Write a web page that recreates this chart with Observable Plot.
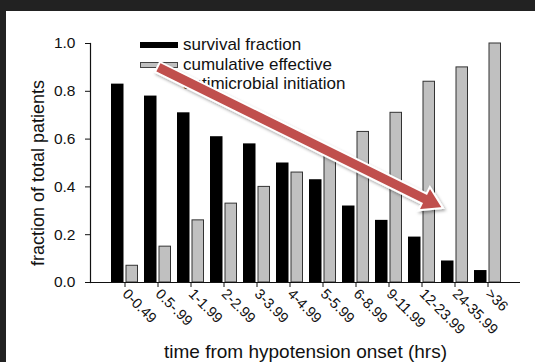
<!DOCTYPE html>
<html>
<head>
<meta charset="utf-8">
<script src="https://cdn.jsdelivr.net/npm/d3@7"></script>
<script src="https://cdn.jsdelivr.net/npm/@observablehq/plot@0.6"></script>
<style>
html, body { margin: 0; padding: 0; background: #222222; width: 535px; height: 362px; overflow: hidden; }
#panel { position: absolute; left: 6px; top: 11px; width: 529px; height: 351px; background: #ffffff;
  font-family: "Liberation Sans", Arial, Helvetica, sans-serif; }
.sw { position: absolute; left: 134px; width: 38px; height: 6px; box-sizing: border-box; }
.lt { position: absolute; left: 177px; font-size: 17px; line-height: 19px; white-space: nowrap; color: #111; }
#chart { position: absolute; left: 0; top: 0; }
g[aria-label="ytitle"] text { letter-spacing: 1.1px; }
g[aria-label="xtitle"] text { letter-spacing: 0.6px; }
</style>
</head>
<body>
<div id="panel">
  <div id="legend"></div>
  <div id="chart"></div>
</div>
<script>
// ---- data ----
const categories = ["0-0.49", "0.5-.99", "1-1.99", "2-2.99", "3-3.99", "4-4.99", "5-5.99", "6-8.99", "9-11.99", "12-23.99", "24-35.99", ">36"];
const survival   = [0.83, 0.78, 0.71, 0.61, 0.58, 0.50, 0.43, 0.32, 0.26, 0.19, 0.09, 0.05];
const cumulative = [0.07, 0.15, 0.26, 0.33, 0.40, 0.46, 0.55, 0.63, 0.71, 0.84, 0.90, 1.00];
const yTicks = [0, 0.2, 0.4, 0.6, 0.8, 1.0];
const legendLabels = ["survival fraction", "cumulative effective", "antimicrobial initiation"];
const xTitle = "time from hypotension onset (hrs)";
const yTitle = "fraction of total patients";
// annotation arrow: [category index (fractional), value]
const arrowFrom = [1.0, 0.90];
const arrowTo = [9.65, 0.31];

const rows = categories.map((c, i) => ({cat: c, survival: survival[i], cumulative: cumulative[i]}));

// ---- legend (HTML, below the SVG so the arrow overlaps it) ----
const legend = document.getElementById("legend");
legend.innerHTML = `
  <div class="sw" style="top:31px;background:#000;"></div>
  <div class="sw" style="top:51px;background:#c0c0c0;border:1px solid #444;"></div>
  <div class="lt" style="top:24px;">${legendLabels[0]}</div>
  <div class="lt" style="top:44px;">${legendLabels[1]}</div>
  <div class="lt" style="top:63px;">${legendLabels[2]}</div>`;

// ---- red annotation arrow drawn through the chart's scales ----
function arrowMark(index, scales) {
  const x = scales.x, y = scales.y;
  const step = x(categories[1]) - x(categories[0]);
  const bw = x.bandwidth ? x.bandwidth() : step;
  const px = (t) => x(categories[Math.floor(t)]) + (t - Math.floor(t)) * step + bw / 2;
  const T = [px(arrowFrom[0]), y(arrowFrom[1])];
  const P = [px(arrowTo[0]), y(arrowTo[1])];
  const len = Math.hypot(P[0] - T[0], P[1] - T[1]);
  const u = [(P[0] - T[0]) / len, (P[1] - T[1]) / len];
  const n = [-u[1], u[0]];
  const w = 5.5, h = 13, L = 21;
  const B = [P[0] - u[0] * L, P[1] - u[1] * L];
  const pt = (p, k) => [p[0] + n[0] * k, p[1] + n[1] * k];
  const pts = [pt(T, w), pt(B, w), pt(B, h), P, pt(B, -h), pt(B, -w), pt(T, -w)];
  const g = d3.create("svg:g");
  const f = g.append("defs").append("filter").attr("id", "ashadow")
    .attr("x", "-20%").attr("y", "-20%").attr("width", "140%").attr("height", "140%");
  f.append("feDropShadow").attr("dx", 1.5).attr("dy", 2).attr("stdDeviation", 1.4)
    .attr("flood-color", "#000").attr("flood-opacity", 0.35);
  g.append("polygon")
    .attr("points", pts.map(p => p.join(",")).join(" "))
    .attr("fill", "#c0504d").attr("stroke", "#fff").attr("stroke-width", 2)
    .attr("stroke-linejoin", "miter").attr("filter", "url(#ashadow)");
  return g.node();
}

const chart = Plot.plot({
  width: 529,
  height: 351,
  marginLeft: 84,
  marginRight: 15,
  marginTop: 32,
  marginBottom: 80,
  style: {fontFamily: '"Liberation Sans", Arial, Helvetica, sans-serif', background: "transparent", color: "#111", overflow: "visible"},
  x: {domain: categories, paddingInner: 0, paddingOuter: 0.5, align: 0.528},
  y: {domain: [0, 1]},
  marks: [
    Plot.barY(rows, {x: "cat", y: "survival", fill: "#000", insetLeft: 3, insetRight: 17.5}),
    Plot.barY(rows, {x: "cat", y: "cumulative", fill: "#c0c0c0", stroke: "#333", strokeWidth: 1, insetLeft: 18, insetRight: 3.5}),
    Plot.ruleY([0], {stroke: "#111", strokeWidth: 1.2}),
    Plot.frame({anchor: "left", stroke: "#111", strokeWidth: 1.2}),
    Plot.axisY({ticks: yTicks, tickFormat: d3.format(".1f"), tickSize: 5, tickPadding: 10, fontSize: 15.5, label: null}),
    Plot.axisX({tickSize: 5, tickPadding: 4, tickRotate: 45, fontSize: 14.5, label: null}),
    Plot.text([yTitle], {frameAnchor: "left", textAnchor: "middle", rotate: -90, dx: -52.5, dy: 10, fontSize: 18, fill: "#111", ariaLabel: "ytitle"}),
    Plot.text([xTitle], {frameAnchor: "bottom", dy: 75, fontSize: 19, fill: "#111", ariaLabel: "xtitle"}),
    arrowMark
  ]
});
document.getElementById("chart").appendChild(chart);
</script>
</body>
</html>
